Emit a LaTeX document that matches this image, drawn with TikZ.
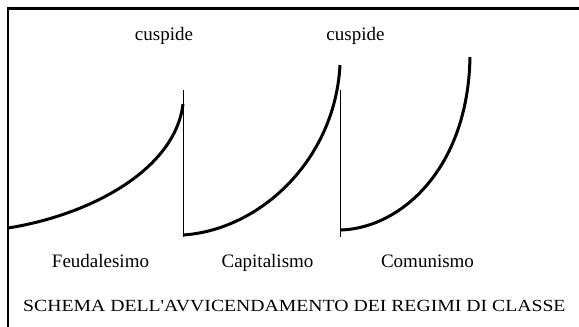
\documentclass[tikz,border=0pt]{standalone}
\usepackage{fontspec}
\setmainfont{Liberation Serif}
\newfontfamily\titlefont[FakeStretch=1.16]{Liberation Serif}
\begin{document}
\begin{tikzpicture}[x=1pt,y=-1pt,
	frame/.style={line width=2.5pt},
	era/.style={line width=3pt},
	cut/.style={line width=0.8pt},
	lab/.style={anchor=base,inner sep=0pt,font=\fontsize{19}{22}\selectfont},
	tit/.style={anchor=base,inner sep=0pt,font=\titlefont\fontsize{17}{20}\selectfont}]
\useasboundingbox (0,0) rectangle (579,327);
\draw[frame] (8,327) -- (8,8.5) -- (579,8.5);
% curve ends
\coordinate (f0) at (8,228);
\coordinate (f1) at (183,104);
\coordinate (c0) at (183,235);
\coordinate (c1) at (340,65);
\coordinate (m0) at (341,230);
\coordinate (m1) at (470,57);
% the three regimes
\draw[era] (f0) .. controls (90,215) and (175,170) .. (f1);
\draw[era] (c0) .. controls (260,230) and (335,160) .. (c1);
\draw[era] (m0) .. controls (400,228) and (468,170) .. (m1);
% the two breaks
\coordinate (b1top) at (183,90);
\coordinate (b1bot) at (183,237);
\coordinate (b2top) at (340,90);
\coordinate (b2bot) at (340,237);
\draw[cut] (b1top) -- (b1bot);
\draw[cut] (b2top) -- (b2bot);
\node[lab] (cusp1) at (164,40) {cuspide};
\node[lab] (cusp2) at (355.5,40) {cuspide};
\node[lab] (feud) at (100.5,267.7) {Feudalesimo};
\node[lab] (capi) at (267.5,267.7) {Capitalismo};
\node[lab] (comu) at (427.5,267.7) {Comunismo};
\node[tit] (title) at (294.4,311.7) {SCHEMA DELL'AVVICENDAMENTO DEI REGIMI DI CLASSE};
\end{tikzpicture}
\end{document}
